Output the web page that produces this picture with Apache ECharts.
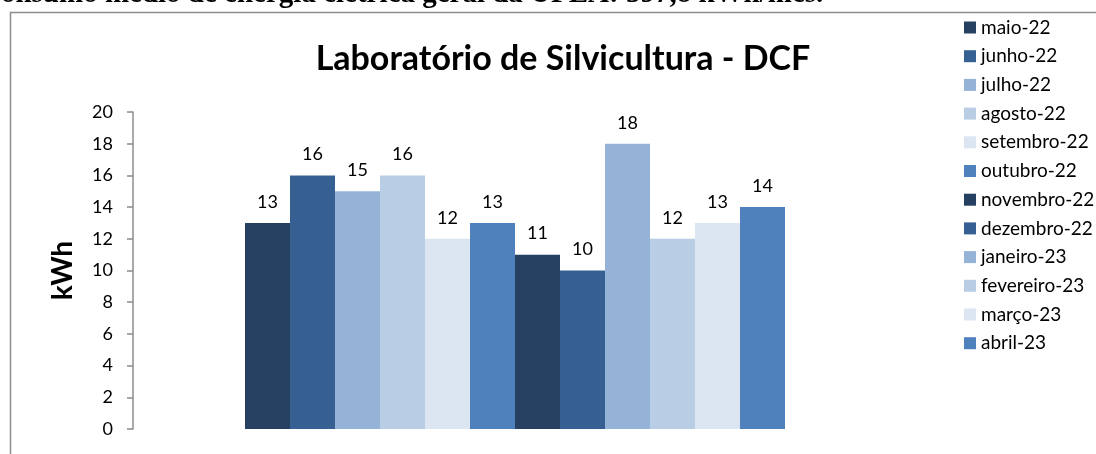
<!DOCTYPE html>
<html>
<head>
<meta charset="utf-8">
<script src="https://cdn.jsdelivr.net/npm/echarts@6/dist/echarts.min.js"></script>
<style>
  html, body { margin: 0; padding: 0; background: #fff; }
  #chart { width: 1096px; height: 454px; }
</style>
</head>
<body>
<div id="chart"></div>
<script>
// dados do gráfico
const months = ['maio-22', 'junho-22', 'julho-22', 'agosto-22', 'setembro-22', 'outubro-22',
  'novembro-22', 'dezembro-22', 'janeiro-23', 'fevereiro-23', 'março-23', 'abril-23']
const consumo = [13, 16, 15, 16, 12, 13, 11, 10, 18, 12, 13, 14]
const yTicks = { min: 0, max: 20, step: 2 }
const chartTitle = 'Laboratório de Silvicultura - DCF'
const headerText = 'Consumo médio de energia elétrica geral da UFLA: 597,8 kWh/mês.'

const palette = ['#254061', '#376092', '#95b3d7', '#b9cde5', '#dce6f2', '#4f81bd']
const sans = 'Lato, "Open Sans", sans-serif'

const chart = echarts.init(document.getElementById('chart'))

const series = months.map((m, i) => ({
  name: m,
  type: 'bar',
  barWidth: 45,
  barGap: '0%',
  itemStyle: { color: palette[i % palette.length] },
  label: {
    show: true,
    position: 'top',
    distance: 12,
    color: '#000',
    fontFamily: sans,
    fontSize: 18
  },
  data: [consumo[i]]
}))

chart.setOption({
  animation: false,
  graphic: [
    {
      type: 'text',
      left: -20,
      top: -20,
      style: {
        text: headerText,
        font: 'bold 29px "Liberation Serif", serif',
        fill: '#000'
      }
    },
    {
      type: 'rect',
      shape: { x: 10.5, y: 12.5, width: 1200, height: 600 },
      style: { fill: 'none', stroke: '#8c8c8c', lineWidth: 1.5 }
    }
  ],
  title: {
    text: chartTitle,
    left: 558,
    textAlign: 'center',
    top: 37,
    textStyle: { fontFamily: sans, fontWeight: 'bold', fontSize: 34, color: '#000' }
  },
  legend: {
    orient: 'vertical',
    left: 959,
    top: 13,
    itemWidth: 12,
    itemHeight: 12,
    itemGap: 9.7,
    icon: 'rect',
    data: months,
    textStyle: { fontFamily: sans, fontSize: 19, color: '#000' }
  },
  grid: { left: 133, right: 199, top: 112, bottom: 25 },
  xAxis: {
    type: 'category',
    data: [''],
    axisLine: { show: false },
    axisTick: { show: false },
    axisLabel: { show: false }
  },
  yAxis: {
    type: 'value',
    min: yTicks.min,
    max: yTicks.max,
    interval: yTicks.step,
    name: 'kWh',
    nameLocation: 'middle',
    nameGap: 56,
    nameTextStyle: { fontFamily: sans, fontWeight: 'bold', fontSize: 28, color: '#000' },
    axisLine: { show: true, lineStyle: { color: '#8c8c8c', width: 1.5 } },
    axisTick: { show: true, length: 6, lineStyle: { color: '#8c8c8c', width: 1.5 } },
    axisLabel: { margin: 20, fontFamily: sans, fontSize: 18, color: '#000' },
    splitLine: { show: false }
  },
  series: series
})
</script>
</body>
</html>
